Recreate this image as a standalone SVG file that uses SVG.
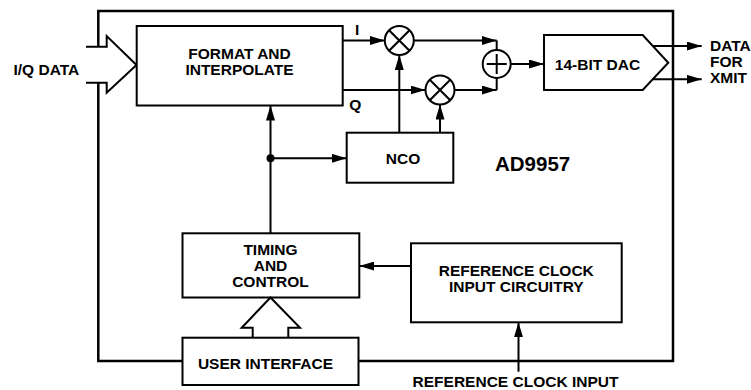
<svg xmlns="http://www.w3.org/2000/svg" width="751" height="390" viewBox="0 0 751 390">
<style>
  .box{fill:#fff;stroke:#000;stroke-width:2}
  .ln{fill:none;stroke:#000;stroke-width:2}
  .outer{fill:none;stroke:#000;stroke-width:2.5}
  .t{font-family:"Liberation Sans",Arial,sans-serif;font-weight:bold;font-size:15.5px;fill:#000}
  .m{text-anchor:middle}
</style>
<defs>
  <marker id="ah" markerUnits="userSpaceOnUse" markerWidth="15" markerHeight="9" refX="15" refY="4.5" orient="auto">
    <path d="M0,0 L15,4.5 L0,9 Z" fill="#000"/>
  </marker>
</defs>
<rect width="751" height="390" fill="#fff"/>

<g id="outer-box">
  <path class="outer" d="M98.3,46.7 V11 H673 V361 H358.5"/>
  <path class="outer" d="M182.5,361 H98.3 V82.7"/>
</g>

<g id="iq-data">
  <path class="ln" d="M86,46.7 H106.7 V36 L136.5,65 L106.7,92.7 V82.7 H86" fill="#fff"/>
  <text class="t" x="13.5" y="75">I/Q DATA</text>
</g>

<g id="format">
  <rect class="box" x="136.7" y="26" width="206" height="79.5"/>
  <text class="t m" x="239.5" y="59">FORMAT AND</text>
  <text class="t m" x="239.5" y="75">INTERPOLATE</text>
</g>

<g id="mixer-i">
  <circle class="box" cx="399.3" cy="40.5" r="14.5"/>
  <path class="ln" d="M389.05,30.25 L409.55,50.75 M409.55,30.25 L389.05,50.75"/>
</g>

<g id="mixer-q">
  <circle class="box" cx="440" cy="90" r="14.5"/>
  <path class="ln" d="M429.75,79.75 L450.25,100.25 M450.25,79.75 L429.75,100.25"/>
</g>

<g id="adder">
  <circle class="box" cx="496.7" cy="64" r="14"/>
  <path class="ln" d="M486.7,64 H506.7 M496.7,54 V74"/>
</g>

<g id="dac">
  <path class="box" d="M544,35 H642.7 L668.3,62.7 L642.7,90 H544 Z"/>
  <text class="t m" x="597.5" y="69.5">14-BIT DAC</text>
</g>

<g id="nco">
  <rect class="box" x="346.7" y="132.7" width="106.6" height="50"/>
  <text class="t m" x="403" y="164">NCO</text>
</g>

<g id="timing">
  <rect class="box" x="182.5" y="233.3" width="176.8" height="64.2"/>
  <text class="t m" x="270.5" y="255">TIMING</text>
  <text class="t m" x="270.5" y="271">AND</text>
  <text class="t m" x="270.5" y="287">CONTROL</text>
</g>

<g id="user-interface">
  <rect class="box" x="182.5" y="337.7" width="176" height="47.3"/>
  <text class="t m" x="265.5" y="369">USER INTERFACE</text>
</g>

<g id="ref-clock">
  <rect class="box" x="411" y="243.3" width="210.7" height="79"/>
  <text class="t m" x="516.3" y="276">REFERENCE CLOCK</text>
  <text class="t m" x="516.3" y="292">INPUT CIRCUITRY</text>
</g>

<g id="connectors">
  <path class="ln" d="M342.7,40.5 H384.8" marker-end="url(#ah)"/>
  <path class="ln" d="M342.7,90 H425.5" marker-end="url(#ah)"/>
  <path class="ln" d="M413.8,40.5 H496.7" marker-end="url(#ah)"/>
  <path class="ln" d="M496.7,40.5 V50"/>
  <path class="ln" d="M454.5,90 H496.7" marker-end="url(#ah)"/>
  <path class="ln" d="M496.7,90 V78"/>
  <path class="ln" d="M510.7,64 H544" marker-end="url(#ah)"/>
  <path class="ln" d="M652.9,46 H701.7" marker-end="url(#ah)"/>
  <path class="ln" d="M652.6,79.3 H701.7" marker-end="url(#ah)"/>
  <path class="ln" d="M399.3,132.7 V55" marker-end="url(#ah)"/>
  <path class="ln" d="M440,132.7 V104.5" marker-end="url(#ah)"/>
  <path class="ln" d="M270.5,233.3 V105.5" marker-end="url(#ah)"/>
  <circle cx="270.5" cy="158.3" r="4" fill="#000"/>
  <path class="ln" d="M270.5,158.3 H346.7" marker-end="url(#ah)"/>
  <path class="ln" d="M411,266 H359.3" marker-end="url(#ah)"/>
  <path class="ln" d="M518.5,371.7 V322.3" marker-end="url(#ah)"/>
  <path class="ln" fill="#fff" d="M252.7,337.7 V327.7 H241.7 L270.5,297.5 L300,327.7 H288.3 V337.7"/>
</g>

<g id="labels">
  <text class="t" x="355" y="35">I</text>
  <text class="t" x="349.3" y="110">Q</text>
  <text class="t" x="710" y="51">DATA</text>
  <text class="t" x="710" y="66.5">FOR</text>
  <text class="t" x="710" y="82.5">XMIT</text>
  <text class="t" x="495" y="170.7" style="font-size:20.5px">AD9957</text>
  <text class="t m" x="515.5" y="386.5">REFERENCE CLOCK INPUT</text>
</g>
</svg>
